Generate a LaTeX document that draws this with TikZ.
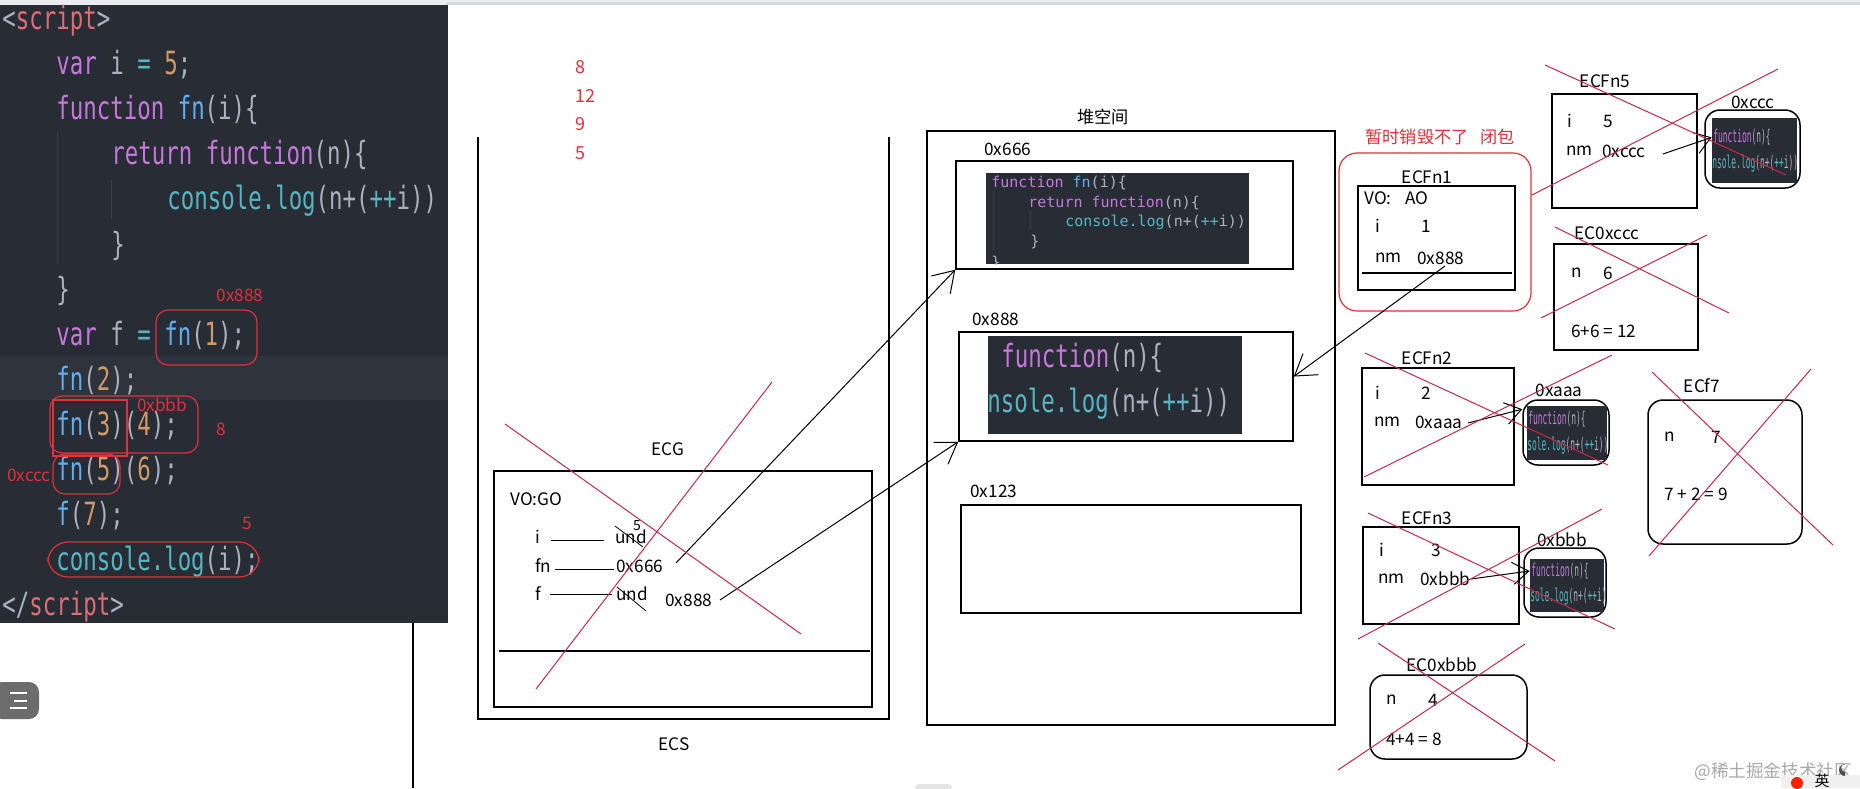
\documentclass[tikz,border=0pt]{standalone}
\usepackage{fontspec}
\newfontfamily\cjk{Noto Sans CJK SC}
\newfontfamily\codefont[FakeStretch=0.7]{DejaVu Sans Mono}
\newfontfamily\minicode{DejaVu Sans Mono}
\newfontfamily\tinycode[FakeStretch=0.45]{DejaVu Sans Mono}
\usetikzlibrary{fit,arrows.meta,calc}
\definecolor{codebg}{HTML}{282C34}
\definecolor{codeband}{HTML}{2E333C}
\definecolor{ckwc}{HTML}{C678DD}
\definecolor{cfnc}{HTML}{61AFEF}
\definecolor{ccyc}{HTML}{56B6C2}
\definecolor{corc}{HTML}{D19A66}
\definecolor{cplc}{HTML}{ABB2BF}
\definecolor{ctagc}{HTML}{E06C75}
\definecolor{annred}{HTML}{E0303A}
\definecolor{crossred}{HTML}{C8284A}
\definecolor{guide}{HTML}{3B4048}
\definecolor{topgray}{HTML}{D6D8E0}
\definecolor{wmgray}{HTML}{A8A8A8}
\newcommand\ckw[1]{\textcolor{ckwc}{#1}}
\newcommand\cfn[1]{\textcolor{cfnc}{#1}}
\newcommand\ccy[1]{\textcolor{ccyc}{#1}}
\newcommand\cor[1]{\textcolor{corc}{#1}}
\newcommand\cpl[1]{\textcolor{cplc}{#1}}
\newcommand\ctag[1]{\textcolor{ctagc}{#1}}
\tikzset{
  lbl/.style={font=\cjk\fontsize{8.6}{10}\selectfont, inner sep=0pt},
  redlbl/.style={lbl, text=annred},
  codeln/.style={font=\codefont\fontsize{16}{18}\selectfont, inner sep=0pt, anchor=base west},
  miniln/.style={font=\minicode\fontsize{7.5}{9}\selectfont, inner sep=0pt, anchor=base west},
  tinyln/.style={font=\tinycode\fontsize{8.8}{9}\selectfont, inner sep=0pt, anchor=base west},
  box/.style={draw, line width=0.75pt, inner sep=0pt},
  rbox/.style={box, rounded corners=7.5pt},
  img/.style={fill=codebg, inner sep=0pt},
  annot/.style={draw=annred, line width=0.6pt, rounded corners=6pt},
  crossln/.style={draw=crossred, line width=0.5pt},
  ptr/.style={draw, line width=0.5pt, -{Straight Barb[length=10pt,width=13pt,line width=0.5pt]}},
  sptr/.style={draw, line width=0.5pt, -{Straight Barb[length=8pt,width=11pt,line width=0.5pt]}},
  thin/.style={draw, line width=0.5pt}
}
\begin{document}
\begin{tikzpicture}[x=0.5pt,y=-0.5pt]
\useasboundingbox (0,0) rectangle (1860,788);
\fill[white] (0,0) rectangle (1860,788);
\fill[topgray!50] (0,0) rectangle (1860,5);
\fill[topgray] (446,2) rectangle (1860,5);

% ---------------- code panel ----------------
\fill[codebg] (0,5) rectangle (448,623);
\fill[codeband] (0,356) rectangle (448,400);
\draw[guide, line width=0.5pt] (57,132) -- (57,264);
\draw[guide, line width=0.5pt] (111,180) -- (111,219);
\node[codeln] (c0) at (2,29) {\cpl{<}\ctag{script}\cpl{>}};
\node[codeln] (c1) at (56,74) {\ckw{var} \cpl{i} \ccy{=} \cor{5}\cpl{;}};
\node[codeln] (c2) at (56,119) {\ckw{function} \cfn{fn}\cpl{(i)\{}};
\node[codeln] (c3) at (111,164) {\ckw{return} \ckw{function}\cpl{(n)\{}};
\node[codeln] (c4) at (167,209) {\ccy{console.log}\cpl{(n+(}\ccy{++}\cpl{i))}};
\node[codeln] (c5) at (111,255) {\cpl{\}}};
\node[codeln] (c6) at (56,300) {\cpl{\}}};
\node[codeln] (c7) at (56,345) {\ckw{var} \cpl{f} \ccy{=} \cfn{fn}\cpl{(}\cor{1}\cpl{);}};
\node[codeln] (c8) at (56,390) {\cfn{fn}\cpl{(}\cor{2}\cpl{);}};
\node[codeln] (c9) at (56,435) {\cfn{fn}\cpl{(}\cor{3}\cpl{)(}\cor{4}\cpl{);}};
\node[codeln] (c10) at (56,480) {\cfn{fn}\cpl{(}\cor{5}\cpl{)(}\cor{6}\cpl{);}};
\node[codeln] (c11) at (56,525) {\cfn{f}\cpl{(}\cor{7}\cpl{);}};
\node[codeln] (c12) at (56,570) {\ccy{console.log}\cpl{(i);}};
\node[codeln] (c13) at (2,615) {\cpl{</}\ctag{script}\cpl{>}};

% red annotations on the code
\draw[annot] (156,310) rectangle (257,365);
\draw[annot] (50,396) rectangle (198,453);
\draw[draw=annred, line width=0.6pt] (53,400) rectangle (127,456);
\draw[annot] (53,454) rectangle (120,494);
\draw[annot, rounded corners=10pt] (48,542) rectangle (259,577);
\node[redlbl] (r888) at (240,295) {0x888};
\node[redlbl] (rbbb) at (162,405) {0xbbb};
\node[redlbl] (r8a) at (221,429) {8};
\node[redlbl] (rccc) at (29,475) {0xccc};
\node[redlbl] (r5a) at (247,523) {5};

% left UI icon and canvas border
\fill[gray!85!black, rounded corners=5pt] (-8,682) rectangle (39,719);
\draw[white, line width=0.8pt] (10,693) -- (27,693) (14,701) -- (27,701) (10,708) -- (27,708);
\draw[line width=0.6pt] (413,623) -- (413,788);

% output numbers
\node[redlbl, anchor=west, font=\cjk\fontsize{9}{10}\selectfont] (o1) at (575,67) {8};
\node[redlbl, anchor=west, font=\cjk\fontsize{9}{10}\selectfont] (o2) at (575,96) {12};
\node[redlbl, anchor=west, font=\cjk\fontsize{9}{10}\selectfont] (o3) at (575,124) {9};
\node[redlbl, anchor=west, font=\cjk\fontsize{9}{10}\selectfont] (o4) at (575,153) {5};

% ---------------- ECS / ECG ----------------
\draw[line width=0.75pt] (478,137) -- (478,719) -- (889,719) -- (889,137);
\node[lbl] (ecslbl) at (674,744) {ECS};
\node[lbl] (ecglbl) at (668,449) {ECG};
\node[box, fit={(494,471) (872,707)}] (ecg) {};
\draw[line width=0.6pt] (499,651) -- (870,651);
\node[lbl, anchor=west] (vogo) at (510,499) {VO:GO};
\node[lbl, anchor=west] (gi) at (535,537) {i};
\node[lbl, anchor=west] (gund1) at (615,537) {und};
\node[lbl, font=\cjk\fontsize{7}{8}\selectfont] (g5) at (637,526) {5};
\node[lbl, anchor=west] (gfn) at (535,566) {fn};
\node[lbl, anchor=west] (g666) at (616,566) {0x666};
\node[lbl, anchor=west] (gf) at (535,594) {f};
\node[lbl, anchor=west] (gund2) at (616,594) {und};
\node[lbl, anchor=west] (g888) at (665,600) {0x888};
\draw[thin] (551,540) -- (604,540);
\draw[thin] (555,569) -- (614,569);
\draw[thin] (550,594) -- (612,594);
\draw[thin, line width=0.4pt] (615,526) -- (643,547);
\draw[thin, line width=0.4pt] (617,587) -- (646,611);
\coordinate (fnval) at (676,563);
\coordinate (fval) at (720,600);

% ---------------- heap ----------------
\node[lbl] (heaplbl) at (1103,117) {堆空间};
\node[box, fit={(927,131) (1335,725)}] (heap) {};
\node[lbl, anchor=west] (l666) at (984,149) {0x666};
\node[box, fit={(956,161) (1293,269)}] (b666) {};
\node[img, fit={(986,173) (1249,264)}] (img666) {};
\begin{scope}
\clip (986,173) rectangle (1249,264);
\draw[guide, line width=0.4pt] (993,192) -- (993,250) (1030,210) -- (1030,230);
\node[miniln] (m1) at (991,187) {\ckw{function} \cfn{fn}\cpl{(i)\{}};
\node[miniln] (m2) at (1028,207) {\ckw{return} \ckw{function}\cpl{(n)\{}};
\node[miniln] (m3) at (1065,226) {\ccy{console.log}\cpl{(n+(}\ccy{++}\cpl{i))}};
\node[miniln] (m4) at (1030,246) {\cpl{\}}};
\node[miniln] (m5) at (991,267) {\cpl{\}}};
\end{scope}
\node[lbl, anchor=west] (l888) at (972,319) {0x888};
\node[box, fit={(959,332) (1293,441)}] (b888) {};
\node[img, fit={(988,336) (1242,434)}] (img888) {};
\begin{scope}
\clip (988,336) rectangle (1242,434);
\node[codeln] (g1) at (1001,367) {\ckw{function}\cpl{(n)\{}};
\node[codeln] (g2) at (987,412) {\ccy{nsole.log}\cpl{(n+(}\ccy{++}\cpl{i))}};
\end{scope}
\node[lbl, anchor=west] (l123) at (970,491) {0x123};
\node[box, fit={(961,505) (1301,613)}] (b123) {};

% ---------------- closure ECFn1 ----------------
\node[redlbl, anchor=west] (closlbl) at (1365,137) {暂时销毁不了\hspace{6pt}闭包};
\node[draw=annred, line width=0.6pt, rounded corners=9pt, inner sep=0pt, fit={(1339,153) (1531,311)}] (closure) {};
\node[lbl] (ecfn1lbl) at (1427,177) {ECFn1};
\node[box, fit={(1358,186) (1515,290)}] (ecfn1) {};
\node[lbl, anchor=west] (vo1) at (1364,198) {VO:\hspace{7pt}AO};
\node[lbl, anchor=west] (i1) at (1375,226) {i};
\node[lbl, anchor=west] (v1) at (1421,226) {1};
\node[lbl, anchor=west] (nm1l) at (1375,258) {nm};
\node[lbl, anchor=west] (nm1v) at (1417,258) {0x888};
\draw[line width=0.6pt] (1362,273) -- (1512,273);
\coordinate (nm1) at (1445,266);

% ---------------- ECFn5 ----------------
\node[lbl] (ecfn5lbl) at (1605,81) {ECFn5};
\node[box, fit={(1552,94) (1697,208)}] (ecfn5) {};
\node[lbl, anchor=west] (i5) at (1567,121) {i};
\node[lbl, anchor=west] (v5) at (1603,121) {5};
\node[lbl, anchor=west] (nm5l) at (1566,151) {nm};
\node[lbl, anchor=west] (nm5v) at (1602,151) {0xccc};
\coordinate (nm5) at (1663,154);
\node[lbl] (cccl) at (1753,102) {0xccc};
\node[rbox, fit={(1705,110) (1800,188)}] (bccc) {};
\node[img, fit={(1712,118) (1797,183)}] (imgccc) {};
\begin{scope}
\clip (1712,118) rectangle (1797,183);
\node[tinyln] (t1) at (1713,142) {\ckw{function}\cpl{(n)\{}};
\node[tinyln] (t2) at (1712,168) {\ccy{nsole.log}\cpl{(n+(}\ccy{++}\cpl{i))}};
\end{scope}

% ---------------- EC0xccc ----------------
\node[lbl] (ec0xccclbl) at (1607,233) {EC0xccc};
\node[box, fit={(1554,244) (1698,350)}] (ec0xccc) {};
\node[lbl, anchor=west] (n6l) at (1571,273) {n};
\node[lbl, anchor=west] (n6v) at (1603,273) {6};
\node[lbl, anchor=west] (sum12) at (1571,331) {6+6 = 12};

% ---------------- ECFn2 ----------------
\node[lbl] (ecfn2lbl) at (1427,358) {ECFn2};
\node[box, fit={(1362,368) (1514,485)}] (ecfn2) {};
\node[lbl, anchor=west] (i2) at (1375,393) {i};
\node[lbl, anchor=west] (v2) at (1421,393) {2};
\node[lbl, anchor=west] (nm2l) at (1374,422) {nm};
\node[lbl, anchor=west] (nm2v) at (1415,422) {0xaaa};
\coordinate (nm2) at (1468,423);
\node[lbl] (aaal) at (1559,390) {0xaaa};
\node[rbox, fit={(1523,400) (1609,465)}] (baaa) {};
\node[img, fit={(1527,406) (1607,460)}] (imgaaa) {};
\begin{scope}
\clip (1527,406) rectangle (1607,460);
\node[tinyln] (t3) at (1528,424) {\ckw{function}\cpl{(n)\{}};
\node[tinyln] (t4) at (1527,450) {\ccy{sole.log}\cpl{(n+(}\ccy{++}\cpl{i))}};
\end{scope}

% ---------------- ECf7 ----------------
\node[lbl] (ecf7lbl) at (1702,386) {ECf7};
\node[rbox, fit={(1648,400) (1802,544)}] (ecf7) {};
\node[lbl, anchor=west] (n7l) at (1664,437) {n};
\node[lbl, anchor=west] (n7v) at (1711,437) {7};
\node[lbl, anchor=west] (sum9) at (1664,494) {7 + 2 = 9};

% ---------------- ECFn3 ----------------
\node[lbl] (ecfn3lbl) at (1427,518) {ECFn3};
\node[box, fit={(1363,527) (1519,624)}] (ecfn3) {};
\node[lbl, anchor=west] (i3) at (1379,550) {i};
\node[lbl, anchor=west] (v3) at (1431,550) {3};
\node[lbl, anchor=west] (nm3l) at (1378,579) {nm};
\node[lbl, anchor=west] (nm3v) at (1420,579) {0xbbb};
\coordinate (nm3) at (1471,579);
\node[lbl] (bbbl) at (1562,540) {0xbbb};
\node[rbox, fit={(1524,548) (1606,617)}] (bbbb) {};
\node[img, fit={(1530,559) (1604,612)}] (imgbbb) {};
\begin{scope}
\clip (1530,559) rectangle (1604,612);
\node[tinyln] (t5) at (1531,576) {\ckw{function}\cpl{(n)\{}};
\node[tinyln] (t6) at (1530,601) {\ccy{sole.log}\cpl{(n+(}\ccy{++}\cpl{i))}};
\end{scope}

% ---------------- EC0xbbb ----------------
\node[lbl] (ec0xbbblbl) at (1442,665) {EC0xbbb};
\node[rbox, fit={(1370,675) (1527,759)}] (ec0xbbb) {};
\node[lbl, anchor=west] (n4l) at (1386,700) {n};
\node[lbl, anchor=west] (n4v) at (1428,700) {4};
\node[lbl, anchor=west] (sum8) at (1386,739) {4+4 = 8};

% ---------------- pointers ----------------
\draw[ptr] (fnval) -- (b666.south west);
\draw[ptr] (fval) -- (b888.south west);
\draw[ptr] (nm1) -- ($(b888.north east)!0.41!(b888.south east)$);
\draw[sptr] (nm5) -- ($(imgccc.north west)!0.3!(imgccc.south west)$);
\draw[sptr] (nm2) -- ($(baaa.north west)!0.15!(baaa.south west)$);
\draw[sptr] (nm3) -- ($(imgbbb.north west)!0.23!(imgbbb.south west)$);

% ---------------- red crosses ----------------
\draw[crossln] (505,424) -- (801,634) (536,689) -- (772,382);
\draw[crossln] (1545,65) -- (1786,175) (1532,195) -- (1778,69);
\draw[crossln] (1555,227) -- (1729,313) (1541,318) -- (1707,235);
\draw[crossln] (1365,353) -- (1608,465) (1364,477) -- (1612,355);
\draw[crossln] (1652,372) -- (1833,545) (1649,556) -- (1811,369);
\draw[crossln] (1368,513) -- (1615,629) (1358,639) -- (1602,509);
\draw[crossln] (1378,643) -- (1555,761) (1338,770) -- (1525,644);

% ---------------- page furniture ----------------
\fill[gray!20, rounded corners=2pt] (915,784) rectangle (952,790);
\node[lbl, anchor=west, text=wmgray, font=\cjk\fontsize{8.8}{10}\selectfont] (wm) at (1694,772) {@稀土掘金技术社区};
\fill[gray!12] (1781,775) rectangle (1860,788);
\fill[red!75!orange] (1797,783) circle (6);
\node[lbl, font=\cjk\fontsize{7.5}{8}\selectfont] (ying) at (1822,781) {英};
\fill[black!70] (1845,776) arc (90:270:6) arc (270:90:4) -- cycle;
\end{tikzpicture}
\end{document}
